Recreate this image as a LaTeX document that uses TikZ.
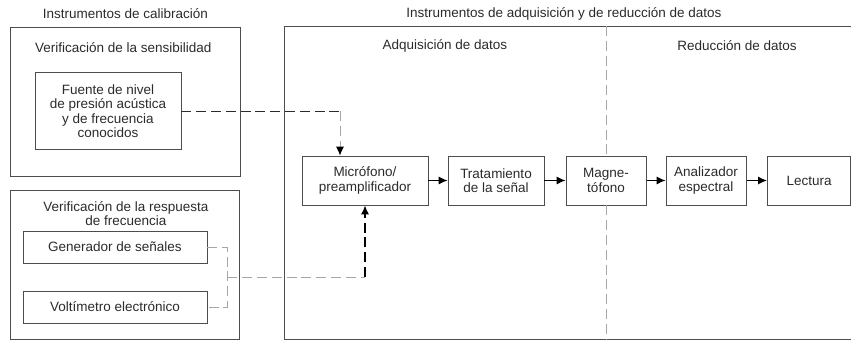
\documentclass[tikz,border=0pt]{standalone}
\usepackage{fontspec}
\setmainfont{Liberation Sans}
\usetikzlibrary{arrows.meta,positioning,calc}
\definecolor{Line}{HTML}{4D4D4D}
\definecolor{Ink}{HTML}{2B2B2B}
\definecolor{Dash}{HTML}{A6A6A6}

\begin{document}
\begin{tikzpicture}[
    font=\fontsize{9.6}{10.3}\selectfont, text=Ink,
    group/.style={draw=Line, line width=0.7pt, anchor=south west, inner sep=0pt},
    block/.style={draw=Line, line width=0.7pt, minimum height=1.225cm, align=center, inner sep=1pt},
    caption/.style={align=center},
    arrow/.style={-{Latex[length=2.2mm, width=2mm, color=black]}, line width=0.8pt, black},
    dashline/.style={dash pattern=on 0.25cm off 0.12cm, line width=0.6pt}
  ]
    \useasboundingbox (0,0) rectangle (21.275,8.525);

    % group frames
    \node[group, minimum width=5.75cm, minimum height=3.725cm] (sens) at (0.25,4.1) {};
    \node[group, minimum width=5.725cm, minimum height=3.725cm] (resp) at (0.25,0.025) {};
    \node[group, minimum width=15cm, minimum height=7.825cm] (adq) at (7.1,0.025) {};

    % titles
    \node[anchor=west] (calibtitle) at (0.95,8.175) {Instrumentos de calibración};
    \node (senstitle) at (3.08,7.325) {Verificación de la sensibilidad};
    \node[caption] (resptitle) at (3.15,3.19) {Verificación de la respuesta\\de frecuencia};
    \node (acqtitle) at (14.1,8.175) {Instrumentos de adquisición y de reducción de datos};
    \node (adqtitle) at (11.125,7.375) {Adquisición de datos};
    \node (redtitle) at (18.425,7.375) {Reducción de datos};

    % blocks
    \node[block, minimum width=3.65cm, minimum height=1.925cm] (fuente) at (2.7,5.74) {Fuente de nivel\\de presión acústica\\y de frecuencia\\conocidos};
    \node[block, minimum width=4.6cm, minimum height=0.8cm] (gen) at (2.875,2.35) {Generador de señales};
    \node[block, minimum width=4.6cm, minimum height=0.8cm] (volt) at (2.875,0.85) {Voltímetro electrónico};
    \node[block, minimum width=3.15cm] (micro) at (9.125,4.0125) {Micrófono/\\preamplificador};
    \node[block, minimum width=2.4cm] (trat) at (12.4,4.0125) {Tratamiento\\de la señal};
    \node[block, minimum width=2.0cm] (magn) at (15.15,4.0125) {Magne-\\tófono};
    \node[block, minimum width=2.0cm] (anal) at (17.65,4.0125) {Analizador\\espectral};
    \node[block, minimum width=2.08cm] (lect) at (20.225,4.0125) {Lectura};

    % divider
    \draw[dashline, Dash] (adq.north -| magn.north) -- (magn.north);
    \draw[dashline, Dash] (magn.south) -- (adq.south -| magn.south);

    % signal chain
    \draw[arrow] (micro) -- (trat);
    \draw[arrow] (trat) -- (magn);
    \draw[arrow] (magn) -- (anal);
    \draw[arrow] (anal) -- (lect);

    % calibration links
    \coordinate (bend1) at ([xshift=-0.625cm]micro.north |- fuente.east);
    \draw[dashline, Ink] (fuente.east) -- (bend1);
    \draw[dashline, Dash, arrow, line width=0.6pt, draw=Dash] (bend1) -- (bend1 |- micro.north);
    \coordinate (join) at ($(gen.east)!0.5!(volt.east)+(0.5,0)$);
    \draw[dashline, Dash] (gen.east) -| (join) |- (volt.east);
    \draw[dashline, Dash] (join) -- (join -| micro.south);
    \draw[dashline, arrow, line width=0.9pt] (join -| micro.south) -- (micro.south);
\end{tikzpicture}
\end{document}
